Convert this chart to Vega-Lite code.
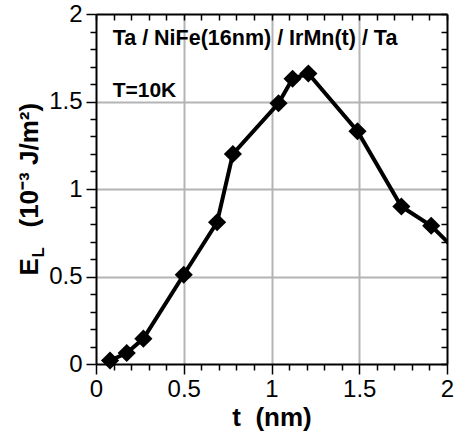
{
  "$schema": "https://vega.github.io/schema/vega-lite/v6.json",
  "width": 351,
  "height": 350,
  "autosize": "none",
  "padding": {"left": 96, "top": 14, "right": 8, "bottom": 72},
  "background": "white",
  "config": {
    "view": {"stroke": null},
    "axis": {
      "labelFont": "Liberation Sans",
      "titleFont": "Liberation Sans",
      "labelColor": "black",
      "titleColor": "black",
      "labelFontSize": 24,
      "titleFontSize": 26,
      "titleFontWeight": "bold",
      "domainColor": "black",
      "domainWidth": 2,
      "tickColor": "black",
      "tickWidth": 1.5,
      "grid": false
    }
  },
  "datasets": {
    "measured": [
      {"t": 0.08, "E": 0.02},
      {"t": 0.175, "E": 0.063},
      {"t": 0.27, "E": 0.145},
      {"t": 0.5, "E": 0.51},
      {"t": 0.69, "E": 0.81},
      {"t": 0.78, "E": 1.2},
      {"t": 1.04, "E": 1.49},
      {"t": 1.12, "E": 1.63},
      {"t": 1.21, "E": 1.66},
      {"t": 1.49, "E": 1.33},
      {"t": 1.74, "E": 0.9},
      {"t": 1.91, "E": 0.79},
      {"t": 2.08, "E": 0.62}
    ],
    "stack": [{"t": 0.095, "E": 1.823, "label": "Ta / NiFe(16nm) / IrMn(t) / Ta"}],
    "temp": [{"t": 0.095, "E": 1.526, "label": "T=10K"}]
  },
  "layer": [
    {
      "data": {"name": "stack"},
      "mark": {"type": "text", "align": "left", "baseline": "alphabetic", "font": "Liberation Sans", "fontWeight": "bold", "fontSize": 21.5, "color": "black"},
      "encoding": {
        "x": {"field": "t", "type": "quantitative", "scale": {"domain": [0, 2], "nice": false, "zero": false},
          "axis": {"values": [0.5, 1, 1.5], "grid": true, "gridColor": "#b4b4b4", "gridWidth": 2, "labels": false, "ticks": false, "domain": false, "title": null}},
        "y": {"field": "E", "type": "quantitative", "scale": {"domain": [0, 2], "nice": false, "zero": false},
          "axis": {"orient": "left", "values": [0.5, 1, 1.5], "grid": true, "gridColor": "#b4b4b4", "gridWidth": 2, "labels": false, "ticks": false, "domain": false,
            "title": "E", "titleAngle": 270, "titleAlign": "left", "titleBaseline": "alphabetic", "titleX": -59, "titleY": 261, "titleFontSize": 26}},
        "text": {"field": "label"}
      }
    },
    {
      "data": {"name": "measured"},
      "mark": {"type": "line", "color": "black", "strokeWidth": 4, "clip": true},
      "encoding": {
        "x": {"field": "t", "type": "quantitative", "scale": {"domain": [0, 2], "nice": false, "zero": false},
          "axis": {"orient": "bottom", "values": [0, 0.5, 1, 1.5, 2], "format": "~g", "tickSize": 10, "labelPadding": 3, "labelFlush": false, "labelOverlap": false,
            "title": "t\u00a0\u00a0(nm)", "titleX": 175.5, "titleY": 61, "titleAlign": "center", "titleBaseline": "alphabetic"}},
        "y": {"field": "E", "type": "quantitative", "scale": {"domain": [0, 2], "nice": false, "zero": false},
          "axis": {"orient": "left", "values": [0, 0.5, 1, 1.5, 2], "format": "~g", "tickSize": 10, "labelPadding": 4, "labelFlush": false, "labelOverlap": false,
            "title": "(10\u207b\u00b3 J/m\u00b2)", "titleAngle": 270, "titleAlign": "left", "titleBaseline": "alphabetic", "titleX": -59, "titleY": 213}}
      }
    },
    {
      "data": {"name": "measured"},
      "transform": [{"filter": "datum.t <= 2"}],
      "mark": {"type": "point", "shape": "diamond", "filled": true, "color": "black", "opacity": 1, "size": 330},
      "encoding": {
        "x": {"field": "t", "type": "quantitative", "scale": {"domain": [0, 2], "nice": false, "zero": false},
          "axis": {"orient": "bottom", "values": [0.1, 0.2, 0.3, 0.4, 0.6, 0.7, 0.8, 0.9, 1.1, 1.2, 1.3, 1.4, 1.6, 1.7, 1.8, 1.9], "tickSize": 6, "labels": false, "domain": false, "title": null}},
        "y": {"field": "E", "type": "quantitative", "scale": {"domain": [0, 2], "nice": false, "zero": false},
          "axis": {"orient": "left", "values": [0.1, 0.2, 0.3, 0.4, 0.6, 0.7, 0.8, 0.9, 1.1, 1.2, 1.3, 1.4, 1.6, 1.7, 1.8, 1.9], "tickSize": 6, "labels": false, "domain": false,
            "title": "L", "titleAngle": 270, "titleAlign": "left", "titleBaseline": "alphabetic", "titleX": -53, "titleY": 243, "titleFontSize": 17}}
      }
    },
    {
      "data": {"name": "temp"},
      "mark": {"type": "text", "align": "left", "baseline": "alphabetic", "font": "Liberation Sans", "fontWeight": "bold", "fontSize": 21, "color": "black"},
      "encoding": {
        "x": {"field": "t", "type": "quantitative", "scale": {"domain": [0, 2], "nice": false, "zero": false},
          "axis": {"orient": "top", "values": [0, 0.1, 0.2, 0.3, 0.4, 0.5, 0.6, 0.7, 0.8, 0.9, 1, 1.1, 1.2, 1.3, 1.4, 1.5, 1.6, 1.7, 1.8, 1.9, 2], "tickSize": -6, "labels": false, "title": null}},
        "y": {"field": "E", "type": "quantitative", "scale": {"domain": [0, 2], "nice": false, "zero": false},
          "axis": {"orient": "right", "values": [0, 0.1, 0.2, 0.3, 0.4, 0.5, 0.6, 0.7, 0.8, 0.9, 1, 1.1, 1.2, 1.3, 1.4, 1.5, 1.6, 1.7, 1.8, 1.9, 2], "tickSize": -6, "labels": false, "title": null}},
        "text": {"field": "label"}
      }
    }
  ],
  "resolve": {"axis": {"x": "independent", "y": "independent"}}
}
